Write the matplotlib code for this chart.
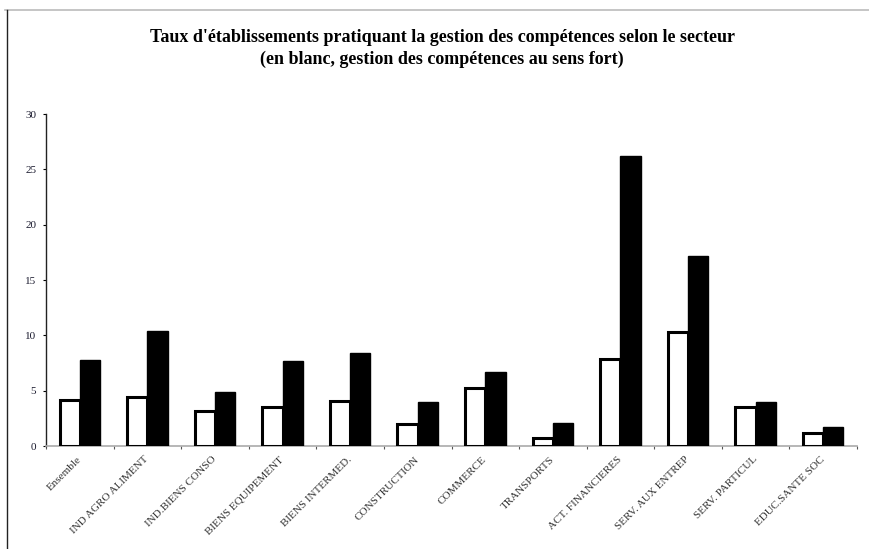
import matplotlib
matplotlib.use("Agg")
import matplotlib.pyplot as plt
import numpy as np
from matplotlib.lines import Line2D

categories = ["Ensemble", "IND AGRO ALIMENT", "IND.BIENS CONSO", "BIENS EQUIPEMENT",
              "BIENS INTERMED.", "CONSTRUCTION", "COMMERCE", "TRANSPORTS",
              "ACT. FINANCIERES", "SERV. AUX ENTREP", "SERV. PARTICUL", "EDUC.SANTE SOC"]
sens_fort = [4.2, 4.45, 3.2, 3.55, 4.1, 1.95, 5.2, 0.75, 7.9, 10.3, 3.55, 1.15]
ensemble = [7.8, 10.4, 4.9, 7.7, 8.4, 4.0, 6.7, 2.05, 26.2, 17.2, 4.0, 1.75]
yticks = [0, 5, 10, 15, 20, 25, 30]

W, H = 869, 549
fig = plt.figure(figsize=(W/100, H/100), dpi=100)
ax = fig.add_axes([46/W, (H-446)/H, (857-46)/W, (446-114)/H])

x = np.arange(len(categories))
bw = 0.3
ax.bar(x - bw/2 + 0.5, sens_fort, width=bw, color="white", edgecolor="black", linewidth=2.2, zorder=3)
ax.bar(x + bw/2 + 0.5, ensemble, width=bw, color="black", edgecolor="black", linewidth=1, zorder=3)

ax.set_xlim(0, len(categories))
ax.set_ylim(0, 30)
ax.set_yticks(yticks)
ax.set_yticklabels([str(t) for t in yticks], fontsize=8, family="Liberation Serif", color="#1a1a2e")
ax.set_xticks(np.arange(len(categories) + 1))
ax.set_xticklabels([])
for i, c in enumerate(categories):
    ax.text(i + 0.45, -0.8, c, rotation=45, ha="right", va="top", rotation_mode="anchor",
            fontsize=8, family="Liberation Serif", color="#333333")
ax.tick_params(axis="x", length=2, width=0.8, color="#555555")
ax.tick_params(axis="y", length=2, width=0.8, pad=5)
for s in ["top", "right"]:
    ax.spines[s].set_visible(False)
ax.spines["left"].set_color("#222222")
ax.spines["left"].set_linewidth(1.0)
ax.spines["bottom"].set_color("#aaaaaa")
ax.spines["bottom"].set_linewidth(1.2)

fig.text(442/W, 1 - 37/H, "Taux d'établissements pratiquant la gestion des compétences selon le secteur",
         ha="center", va="center", fontsize=13, fontweight="bold", family="Liberation Serif")
fig.text(442/W, 1 - 59/H, "(en blanc, gestion des compétences au sens fort)",
         ha="center", va="center", fontsize=13, fontweight="bold", family="Liberation Serif")

fig.add_artist(Line2D([5/W, 1], [1 - 10/H, 1 - 10/H], color="#bbbbbb", linewidth=1.2))
fig.add_artist(Line2D([7/W, 7/W], [0, 1 - 10/H], color="#222222", linewidth=1.0))

fig.savefig("out.png", dpi=100)
